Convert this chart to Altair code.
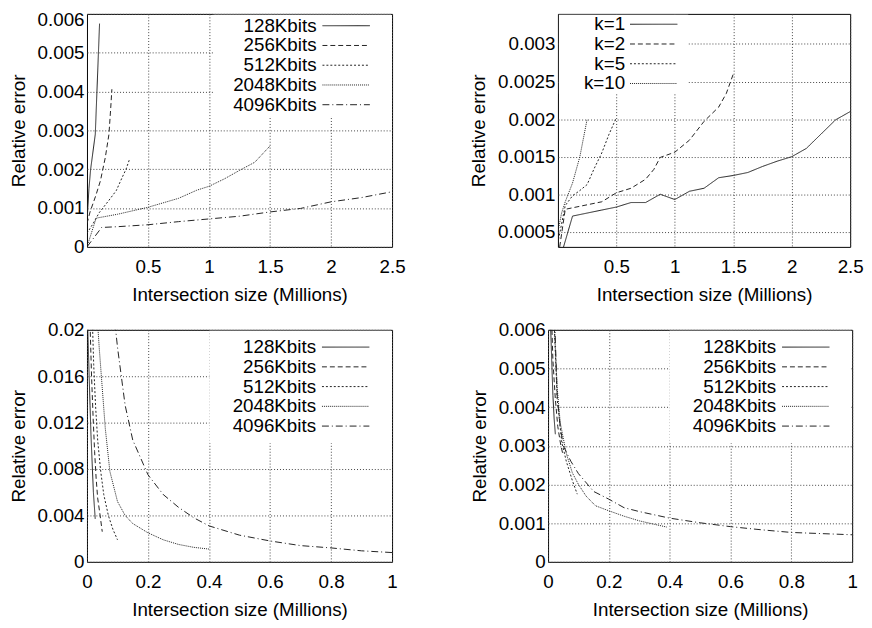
import altair as alt
import pandas as pd

FONT = "Liberation Sans"
FS = 19

# ---------------- Panel A (top-left): vs. bitmap size ----------------
a_names = ["128Kbits", "256Kbits", "512Kbits", "2048Kbits", "4096Kbits"]
a_x = {
    "128Kbits": [0.003, 0.016, 0.03, 0.068, 0.103],
    "256Kbits": [0.0, 0.025, 0.07, 0.11, 0.15, 0.18, 0.195, 0.204],
    "512Kbits": [0.0, 0.05, 0.1, 0.18, 0.24, 0.29, 0.32, 0.35],
    "2048Kbits": [0.0, 0.075, 0.25, 0.5, 0.75, 0.9, 1.0, 1.125, 1.25, 1.375, 1.5],
    "4096Kbits": [0.0, 0.12, 0.25, 0.5, 0.75, 1.0, 1.25, 1.5, 1.75, 2.0, 2.25, 2.5],
}
a_y = {
    "128Kbits": [0.0008, 0.0015, 0.002, 0.0029, 0.00575],
    "256Kbits": [0.0006, 0.0009, 0.0013, 0.0017, 0.0023, 0.0029, 0.0036, 0.00406],
    "512Kbits": [0.00035, 0.0006, 0.00088, 0.0012, 0.00145, 0.0018, 0.002, 0.00227],
    "2048Kbits": [0.0, 0.00074, 0.00084, 0.00102, 0.00125, 0.00146, 0.00156, 0.00175, 0.00197, 0.00218, 0.0026],
    "4096Kbits": [0.0, 0.0005, 0.00052, 0.00057, 0.00065, 0.00072, 0.00079, 0.0009, 0.00099, 0.00116, 0.00127, 0.00142],
}

# ---------------- Panel B (top-right): vs. k ----------------
b_names = ["k=1", "k=2", "k=5", "k=10"]
b_x = {
    "k=1": [0.03125, 0.125, 0.25, 0.375, 0.5, 0.625, 0.75, 0.875, 1.0, 1.125, 1.25, 1.375,
            1.5, 1.625, 1.75, 1.875, 2.0, 2.125, 2.25, 2.375, 2.5],
    "k=2": [0.015, 0.0625, 0.125, 0.25, 0.375, 0.5, 0.625, 0.75, 0.82, 0.875, 1.0, 1.125, 1.25, 1.375, 1.44, 1.5],
    "k=5": [0.005, 0.0625, 0.125, 0.1875, 0.25, 0.3125, 0.375, 0.4375, 0.5],
    "k=10": [0.0, 0.03125, 0.0625, 0.125, 0.1875, 0.25],
}
b_y = {
    "k=1": [0.00021, 0.00071, 0.00075, 0.00079, 0.00083, 0.00089, 0.00089, 0.001, 0.00093, 0.00104,
            0.00108, 0.00122, 0.00125, 0.00129, 0.00137, 0.00144, 0.0015, 0.00161, 0.0018, 0.00199, 0.0021],
    "k=2": [0.0003, 0.0008, 0.00082, 0.00086, 0.0009, 0.00102, 0.00108, 0.0012, 0.00133, 0.00149,
            0.00156, 0.00172, 0.00197, 0.00216, 0.00234, 0.0026],
    "k=5": [0.0004, 0.00085, 0.00098, 0.00105, 0.00113, 0.00135, 0.00155, 0.0018, 0.00202],
    "k=10": [0.0005, 0.00075, 0.0009, 0.00115, 0.0015, 0.002],
}

# ---------------- Panel C (bottom-left) ----------------
c_x = {
    "128Kbits": [0.002, 0.006, 0.01, 0.013, 0.017, 0.021, 0.027],
    "256Kbits": [0.01, 0.015, 0.02, 0.025, 0.03, 0.035, 0.042, 0.05],
    "512Kbits": [0.018, 0.022, 0.028, 0.035, 0.045, 0.055, 0.07, 0.085, 0.1],
    "2048Kbits": [0.035, 0.04, 0.05, 0.06, 0.075, 0.1, 0.125, 0.15, 0.2, 0.25, 0.3, 0.35, 0.4],
    "4096Kbits": [0.092, 0.1, 0.125, 0.15, 0.2, 0.25, 0.3, 0.35, 0.4, 0.5, 0.6, 0.7, 0.8, 0.9, 1.0],
}
c_y = {
    "128Kbits": [0.0205, 0.017, 0.0135, 0.011, 0.0085, 0.006, 0.0037],
    "256Kbits": [0.0205, 0.016, 0.0125, 0.0095, 0.0072, 0.0055, 0.0042, 0.0026],
    "512Kbits": [0.0205, 0.017, 0.0135, 0.0105, 0.0078, 0.0058, 0.004, 0.0028, 0.0019],
    "2048Kbits": [0.0205, 0.0185, 0.015, 0.0115, 0.0078, 0.0052, 0.004, 0.0033, 0.0025, 0.0019, 0.0015, 0.00125, 0.0011],
    "4096Kbits": [0.0205, 0.0185, 0.0135, 0.0105, 0.0075, 0.0058, 0.0047, 0.0038, 0.0031, 0.0023, 0.0018,
                  0.0014, 0.0012, 0.00095, 0.0008],
}

# ---------------- Panel D (bottom-right) ----------------
d_x = {
    "128Kbits": [0.008, 0.012, 0.016, 0.02, 0.024],
    "256Kbits": [0.012, 0.016, 0.024, 0.032, 0.04, 0.048],
    "512Kbits": [0.02, 0.03, 0.045, 0.06, 0.08, 0.096],
    "2048Kbits": [0.02, 0.03, 0.04, 0.06, 0.08, 0.1, 0.125, 0.156, 0.2, 0.25, 0.3, 0.35, 0.39],
    "4096Kbits": [0.022, 0.03, 0.04, 0.05, 0.075, 0.1, 0.15, 0.2, 0.25, 0.3, 0.4, 0.5, 0.6, 0.7, 0.8, 0.9, 1.0],
}
d_y = {
    "128Kbits": [0.0062, 0.0052, 0.0043, 0.0037, 0.0033],
    "256Kbits": [0.0062, 0.0052, 0.0042, 0.0035, 0.0031, 0.0028],
    "512Kbits": [0.0062, 0.0042, 0.0031, 0.0026, 0.0021, 0.00175],
    "2048Kbits": [0.0062, 0.0045, 0.0036, 0.0028, 0.0023, 0.002, 0.0017, 0.00145, 0.00132, 0.00118, 0.00106, 0.00097, 0.0009],
    "4096Kbits": [0.0062, 0.0043, 0.0035, 0.003, 0.0026, 0.00228, 0.00182, 0.00162, 0.0014, 0.0013, 0.00113,
                  0.00101, 0.00091, 0.00083, 0.00076, 0.00073, 0.0007],
}

# gnuplot-like line types
dash_5 = [[1, 0], [5, 3], [2, 2], [1, 1], [7, 3, 1, 3]]
dash_4 = [[1, 0], [5, 3], [2, 2], [1, 1]]

x_title = "Intersection size (Millions)"
y_title = "Relative error"

KEY_SAMPLE = "M-8,0H8"   # 48px horizontal key sample at symbolSize 36


def frame(names, xs, ys):
    rows = []
    for i, n in enumerate(names):
        for j, (xv, yv) in enumerate(zip(xs[n], ys[n])):
            rows.append({"series": n, "order": i, "idx": j, "x": xv, "y": yv})
    return pd.DataFrame(rows)


def panel(df, names, dashes, xdom, xvals, ydom, yvals, w, h, pad, sym_off, lab_off, hack,
          orient="top-right", top_label_shift=0):
    legend = alt.Legend(
        title=" ", titleOrient="right", titleFontSize=1, titlePadding=hack,
        orient=orient, offset=1, padding=pad, fillColor="white",
        labelAlign="right", labelOffset={"expr": str(lab_off)}, symbolOffset=sym_off,
        symbolType=KEY_SAMPLE, symbolSize=36, symbolStrokeWidth=1,
        symbolStrokeColor="#222", symbolFillColor="transparent",
        rowPadding=0,
        labelFont=FONT, labelFontSize=FS, labelColor="black", labelLimit=0,
    )
    yaxis_kw = dict(values=yvals, title=y_title, format="~g")
    if top_label_shift:
        yaxis_kw["labelOffset"] = {"condition": {"test": "datum.value >= %r" % yvals[-1],
                                                 "value": top_label_shift}, "value": 0}
    return alt.Chart(df).mark_line(clip=True, color="#222", strokeWidth=1).encode(
        x=alt.X("x:Q", scale=alt.Scale(domain=xdom, nice=False, zero=False),
                axis=alt.Axis(values=xvals, title=x_title, format="~g", labelFlush=False)),
        y=alt.Y("y:Q", scale=alt.Scale(domain=ydom, nice=False, zero=False),
                axis=alt.Axis(**yaxis_kw)),
        strokeDash=alt.StrokeDash("series:N", scale=alt.Scale(domain=names, range=dashes),
                                  legend=legend, sort=names),
        order="idx:Q",
        detail="series:N",
    ).properties(width=w, height=h)


pA = panel(frame(a_names, a_x, a_y), a_names, dash_5, [0, 2.5], [0.5, 1, 1.5, 2, 2.5],
           [0, 0.006], [0, 0.001, 0.002, 0.003, 0.004, 0.005, 0.006], 309, 236,
           pad=1.5, sym_off=123.5, lab_off=-39.5, hack=18, top_label_shift=6)
pB = panel(frame(b_names, b_x, b_y), b_names, dash_4, [0, 2.5], [0.5, 1, 1.5, 2, 2.5],
           [0.0003, 0.0034], [0.0005, 0.001, 0.0015, 0.002, 0.0025, 0.003], 296, 236,
           pad=0, sym_off=86.5, lab_off=-38.5, hack=8.5, orient="top-left")
pC = panel(frame(a_names, c_x, c_y), a_names, dash_5, [0, 1], [0, 0.2, 0.4, 0.6, 0.8, 1],
           [0, 0.02], [0, 0.004, 0.008, 0.012, 0.016, 0.02], 309, 235,
           pad=7, sym_off=121.5, lab_off=-39.5, hack=12.5)
pD = panel(frame(a_names, d_x, d_y), a_names, dash_5, [0, 1], [0, 0.2, 0.4, 0.6, 0.8, 1],
           [0, 0.006], [0, 0.001, 0.002, 0.003, 0.004, 0.005, 0.006], 308, 235,
           pad=7, sym_off=121.5, lab_off=-39.5, hack=12.5)

top = alt.hconcat(pA, pB, spacing=64).resolve_scale(strokeDash="independent", x="independent", y="independent")
bottom = alt.hconcat(pC, pD, spacing=72).resolve_scale(strokeDash="independent", x="independent", y="independent")

chart = alt.vconcat(top, bottom, spacing=15).resolve_scale(
    strokeDash="independent", x="independent", y="independent"
).configure(
    padding={"top": -2, "left": 0, "right": 0, "bottom": 0},
    background="white",
).configure_view(
    stroke="black", strokeWidth=1
).configure_axis(
    grid=True, gridColor="#444", gridDash=[1, 2], gridWidth=1, gridOpacity=1,
    ticks=False, tickSize=0, domain=False,
    labelFont=FONT, labelFontSize=FS, labelColor="black",
    titleFont=FONT, titleFontSize=FS, titleColor="black", titleFontWeight="normal",
).configure_axisX(
    labelPadding=11, titlePadding=9,
).configure_axisY(
    labelPadding=3, titlePadding=9,
)

chart.save("out.html", embed_options={"renderer": "svg", "actions": False})
